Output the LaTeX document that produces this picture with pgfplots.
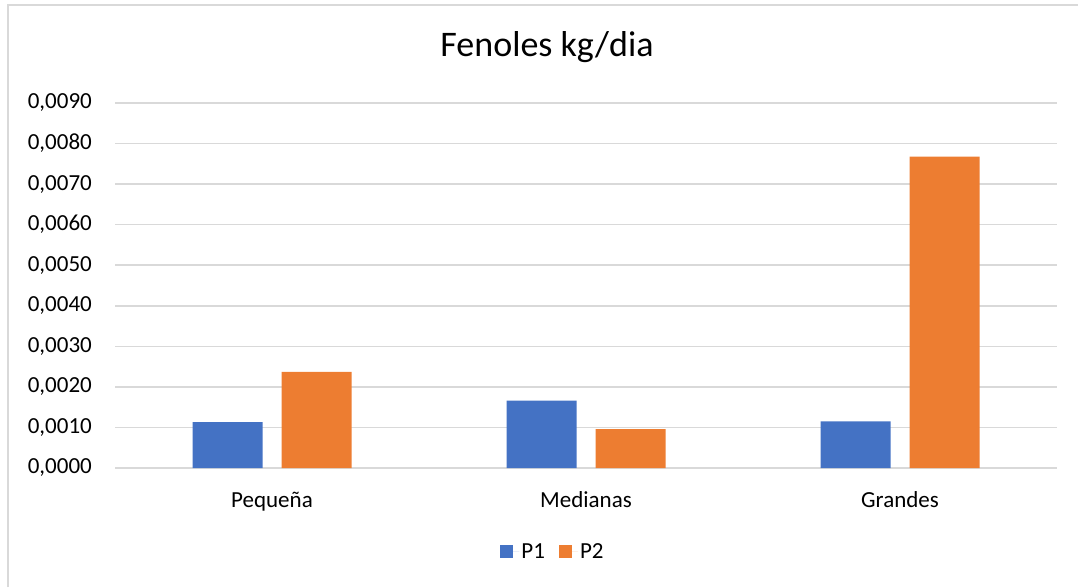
\documentclass[border=0pt]{standalone}
\usepackage{pgfplots}
\pgfplotsset{compat=1.18}
\usepackage{fontspec}
\setmainfont{Carlito}
\definecolor{pone}{HTML}{4472C4}
\definecolor{ptwo}{HTML}{ED7D31}
\definecolor{gridc}{HTML}{D9D9D9}
\begin{document}
\begin{tikzpicture}
\begin{axis}[
  at={(115pt,119pt)}, anchor=south west,
  scale only axis, width=942pt, height=365pt,
  xmin=-0.5, xmax=2.5, ymin=0, ymax=0.009,
  ytick={0,0.001,0.002,0.003,0.004,0.005,0.006,0.007,0.008,0.009},
  xtick={0,1,2}, xticklabels={Pequeña,Medianas,Grandes},
  scaled y ticks=false,
  yticklabel style={anchor=east, inner sep=0pt, xshift=-23pt, font=\fontsize{23}{27}\selectfont,
    /pgf/number format/fixed, /pgf/number format/fixed zerofill, /pgf/number format/precision=4,
    /pgf/number format/use comma, /pgf/number format/assume math mode=true},
  xticklabel style={anchor=base, inner sep=0pt, yshift=-39pt, font=\fontsize{23}{27}\selectfont},
  major tick length=0pt,
  axis line style={draw=none},
  ymajorgrids, major grid style={gridc, line width=1.5pt},
  ybar=19pt, bar width=70pt,
  title={Fenoles kg/dia},
  title style={at={(axis description cs:0.4586,1.1123)}, anchor=base, inner sep=0pt, font=\fontsize{36}{40}\selectfont},
  legend columns=-1,
  legend style={at={(axis description cs:0.465,-0.2301)}, anchor=center, draw=none, fill=none,
    font=\fontsize{23}{27}\selectfont, inner sep=0pt,
    /tikz/every even column/.append style={column sep=12pt}},
  legend image code/.code={\fill[#1] (0pt,-6.5pt) rectangle (13pt,6.5pt); \path (0pt,0pt) -- (19pt,0pt);},
]
\addplot[fill=pone, draw=none] coordinates {(0,0.00113) (1,0.00166) (2,0.00115)};
\addplot[fill=ptwo, draw=none] coordinates {(0,0.00237) (1,0.00096) (2,0.00768)};
\legend{P1,P2}
\end{axis}
\draw[gridc, line width=1.5pt] (8pt,0pt) -- (8pt,582pt) -- (1078pt,582pt);
\pgfresetboundingbox
\useasboundingbox (0,0) rectangle (1078pt,587pt);
\end{tikzpicture}
\end{document}
